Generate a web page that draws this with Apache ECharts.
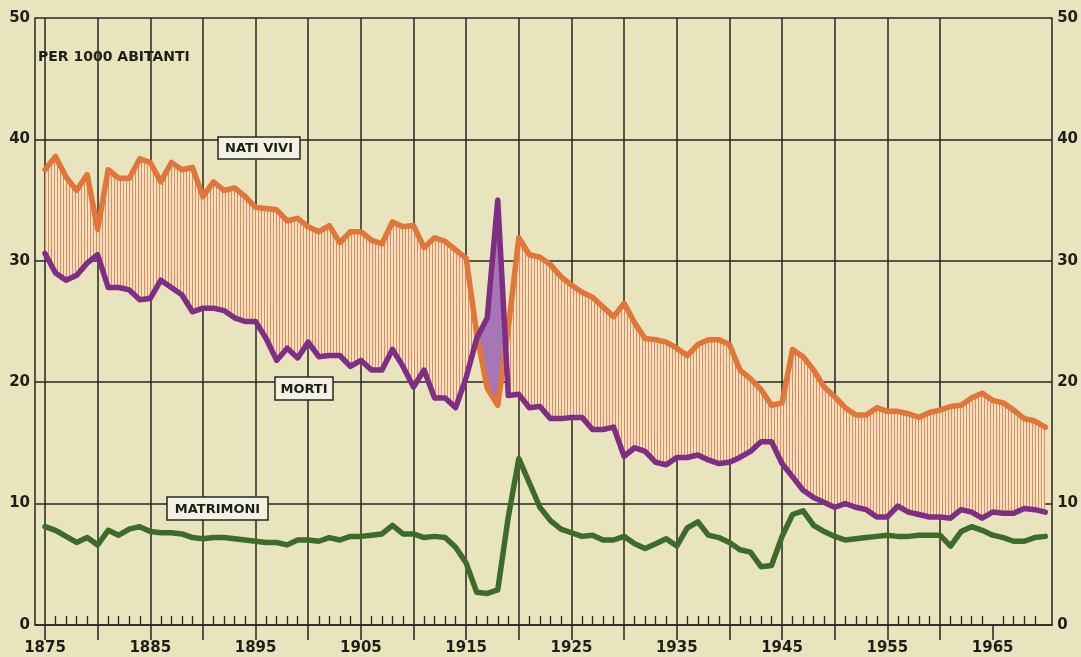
<!DOCTYPE html>
<html>
<head>
<meta charset="utf-8">
<script src="https://cdn.jsdelivr.net/npm/echarts@6/dist/echarts.min.js"></script>
<style>
html,body{margin:0;padding:0;background:#e7e4be;}
#chart{width:1081px;height:657px;}
</style>
</head>
<body>
<div id="chart"></div>
<script>
// ---- data (per 1000 abitanti) ----
const years = [
1875,1876,1877,1878,1879,1880,1881,1882,1883,1884,1885,1886,1887,1888,1889,1890,1891,1892,1893,1894,1895,1896,1897,1898,1899,
1900,1901,1902,1903,1904,1905,1906,1907,1908,1909,1910,1911,1912,1913,1914,1915,1916,1917,1918,1919,
1920,1921,1922,1923,1924,1925,1926,1927,1928,1929,1930,1931,1932,1933,1934,1935,1936,1937,1938,1939,1940,1941,1942,1943,1944,1945,
1946,1947,1948,1949,1950,1951,1952,1953,1954,1955,1956,1957,1958,1959,1960,1961,1962,1963,1964,1965,1966,1967,1968,1969,1970];

const natiVivi = [
37.5,38.6,36.9,35.8,37.1,32.6,37.5,36.8,36.8,38.4,38.1,36.5,38.1,37.5,37.7,35.3,36.5,35.8,36.0,35.3,34.4,34.3,34.2,33.3,33.5,
32.8,32.4,32.9,31.5,32.4,32.4,31.7,31.4,33.2,32.8,32.9,31.1,31.9,31.6,30.9,30.2,24.0,19.5,18.1,24.5,
31.9,30.5,30.3,29.7,28.7,28.0,27.4,27.0,26.2,25.4,26.5,24.9,23.6,23.5,23.3,22.8,22.2,23.1,23.5,23.5,23.1,21.0,20.3,19.4,18.1,18.3,
22.7,22.1,21.0,19.6,18.8,17.9,17.3,17.3,17.9,17.6,17.6,17.4,17.1,17.5,17.7,18.0,18.1,18.7,19.1,18.5,18.3,17.7,17.0,16.8,16.3];

const morti = [
30.6,29.0,28.4,28.8,29.8,30.5,27.8,27.8,27.6,26.8,26.9,28.4,27.8,27.2,25.8,26.1,26.1,25.9,25.3,25.0,25.0,23.6,21.8,22.8,22.0,
23.3,22.1,22.2,22.2,21.3,21.8,21.0,21.0,22.7,21.3,19.6,21.0,18.7,18.7,17.9,20.4,23.6,25.3,35.0,18.9,
19.0,17.9,18.0,17.0,17.0,17.1,17.1,16.1,16.1,16.3,13.9,14.6,14.3,13.4,13.2,13.8,13.8,14.0,13.6,13.3,13.4,13.8,14.3,15.1,15.1,13.3,
12.2,11.1,10.5,10.1,9.7,10.0,9.7,9.5,8.9,8.9,9.8,9.3,9.1,8.9,8.9,8.8,9.5,9.3,8.8,9.3,9.2,9.2,9.6,9.5,9.3];

const matrimoni = [
8.1,7.8,7.3,6.8,7.2,6.6,7.8,7.4,7.9,8.1,7.7,7.6,7.6,7.5,7.2,7.1,7.2,7.2,7.1,7.0,6.9,6.8,6.8,6.6,7.0,
7.0,6.9,7.2,7.0,7.3,7.3,7.4,7.5,8.2,7.5,7.5,7.2,7.3,7.2,6.4,5.1,2.7,2.6,2.9,8.9,
13.7,11.7,9.7,8.6,7.9,7.6,7.3,7.4,7.0,7.0,7.3,6.7,6.3,6.7,7.1,6.5,8.0,8.5,7.4,7.2,6.8,6.2,6.0,4.8,4.9,7.3,
9.1,9.4,8.2,7.7,7.3,7.0,7.1,7.2,7.3,7.4,7.3,7.3,7.4,7.4,7.4,6.5,7.7,8.1,7.8,7.4,7.2,6.9,6.9,7.2,7.3];

const gridYears = [1875,1880,1885,1890,1895,1900,1905,1910,1915,1920,1925,1930,1935,1940,1945,1950,1955,1960,1965];
const labelYears = [1875,1885,1895,1905,1915,1925,1935,1945,1955,1965];
const minorYears = years.filter(y => y % 5 !== 0);

// ---- styling ----
const INK = '#26261f';
const FONT = 'DejaVu Sans';

const pc = document.createElement('canvas');
pc.width = 3; pc.height = 4;
const pctx = pc.getContext('2d');
pctx.fillStyle = '#f4e1c6'; pctx.fillRect(0, 0, 3, 4);
pctx.fillStyle = '#e58a52'; pctx.fillRect(0, 0, 1, 4);
const hatch = { image: pc, repeat: 'repeat' };
const purpleFill = '#a677b5';

function buildRegions() {
  const regions = [];
  let cur = null;
  for (let i = 0; i < years.length; i++) {
    const s = natiVivi[i] - morti[i];
    const sign = s >= 0 ? 1 : -1;
    if (!cur) { cur = { sign, top: [[years[i], natiVivi[i]]], bot: [[years[i], morti[i]]] }; continue; }
    if (sign !== cur.sign) {
      const ps = natiVivi[i - 1] - morti[i - 1];
      const t = ps / (ps - s);
      const xc = years[i - 1] + t * (years[i] - years[i - 1]);
      const yc = natiVivi[i - 1] + t * (natiVivi[i] - natiVivi[i - 1]);
      cur.top.push([xc, yc]); cur.bot.push([xc, yc]);
      regions.push(cur);
      cur = { sign, top: [[xc, yc]], bot: [[xc, yc]] };
    }
    cur.top.push([years[i], natiVivi[i]]);
    cur.bot.push([years[i], morti[i]]);
  }
  regions.push(cur);
  return regions;
}
const regions = buildRegions();

const chart = echarts.init(document.getElementById('chart'), null, { renderer: 'canvas' });

const axisLabelStyle = { color: '#1f1f1a', fontFamily: FONT, fontWeight: 'bold', fontSize: 15 };

function boxLabel(text, x, y, w, h) {
  return [
    { type: 'rect', z: 100, shape: { x: x, y: y, width: w, height: h },
      style: { fill: '#f3f1e2', stroke: INK, lineWidth: 1.5 } },
    { type: 'text', z: 101, x: x + w / 2, y: y + h / 2 + 1,
      style: { text: text, align: 'center', verticalAlign: 'middle', font: 'bold 13px "' + FONT + '"', fill: '#1f1f1a' } }
  ];
}

const option = {
  animation: false,
  backgroundColor: '#e7e4be',
  grid: { left: 35, right: 23, top: 18, bottom: 32, containLabel: false },
  xAxis: [
    {
      type: 'value', min: 1874.05, max: 1970.65, position: 'bottom',
      axisLine: { show: true, lineStyle: { color: INK, width: 1.5 } },
      axisTick: { show: true, customValues: gridYears, length: 15, inside: false, lineStyle: { color: INK, width: 1.5 } },
      splitLine: { show: true, showMinLine: true, showMaxLine: false, lineStyle: { color: INK, width: 1.5 } },
      axisLabel: Object.assign({ customValues: labelYears, margin: 16, formatter: v => String(v) }, axisLabelStyle)
    },
    {
      type: 'value', min: 1874.05, max: 1970.65, position: 'bottom', offset: 0,
      axisLine: { show: false },
      axisTick: { show: true, customValues: minorYears, length: 9, inside: true, lineStyle: { color: INK, width: 1.3 } },
      splitLine: { show: false },
      axisLabel: { show: false }
    }
  ],
  yAxis: [
    {
      type: 'value', min: 0, max: 50, interval: 10, position: 'left',
      axisLine: { show: true, lineStyle: { color: INK, width: 1.5 } },
      axisTick: { show: false },
      splitLine: { show: true, lineStyle: { color: INK, width: 1.5 } },
      axisLabel: Object.assign({ margin: 5 }, axisLabelStyle)
    },
    {
      type: 'value', min: 0, max: 50, interval: 10, position: 'right',
      axisLine: { show: true, lineStyle: { color: INK, width: 1.5 } },
      axisTick: { show: false },
      splitLine: { show: false },
      axisLabel: Object.assign({ margin: 5 }, axisLabelStyle)
    }
  ],
  series: [
    {
      type: 'custom', name: 'fill', z: 1, silent: true,
      data: years.map((y, i) => [y, natiVivi[i], morti[i]]),
      encode: { x: 0, y: [1, 2] },
      renderItem: function (params, api) {
        if (params.dataIndex !== 0) return null;
        const children = regions.map(r => {
          const pts = r.top.concat(r.bot.slice().reverse()).map(p => api.coord(p));
          return { type: 'polygon', shape: { points: pts }, style: { fill: r.sign > 0 ? hatch : purpleFill } };
        });
        return { type: 'group', children: children };
      }
    },
    {
      type: 'line', name: 'NATI VIVI', z: 3, showSymbol: false, symbol: 'none', smooth: false,
      data: years.map((y, i) => [y, natiVivi[i]]),
      lineStyle: { color: '#e27538', width: 5.5, join: 'round', cap: 'round' }
    },
    {
      type: 'line', name: 'MORTI', z: 4, showSymbol: false, symbol: 'none', smooth: false,
      data: years.map((y, i) => [y, morti[i]]),
      lineStyle: { color: '#7e2e85', width: 5.5, join: 'round', cap: 'round' }
    },
    {
      type: 'line', name: 'MATRIMONI', z: 4, showSymbol: false, symbol: 'none', smooth: false,
      data: years.map((y, i) => [y, matrimoni[i]]),
      lineStyle: { color: '#3c6b2b', width: 5.5, join: 'round', cap: 'round' }
    }
  ],
  graphic: [
    { type: 'text', z: 101, x: 38, y: 57,
      style: { text: 'PER 1000 ABITANTI', align: 'left', verticalAlign: 'middle', font: 'bold 14px "' + FONT + '"', fill: '#1f1f1a' } }
  ].concat(boxLabel('NATI VIVI', 218, 137, 82, 22))
   .concat(boxLabel('MORTI', 275, 377, 58, 23))
   .concat(boxLabel('MATRIMONI', 167, 497, 101, 23))
};

chart.setOption(option);
</script>
</body>
</html>
